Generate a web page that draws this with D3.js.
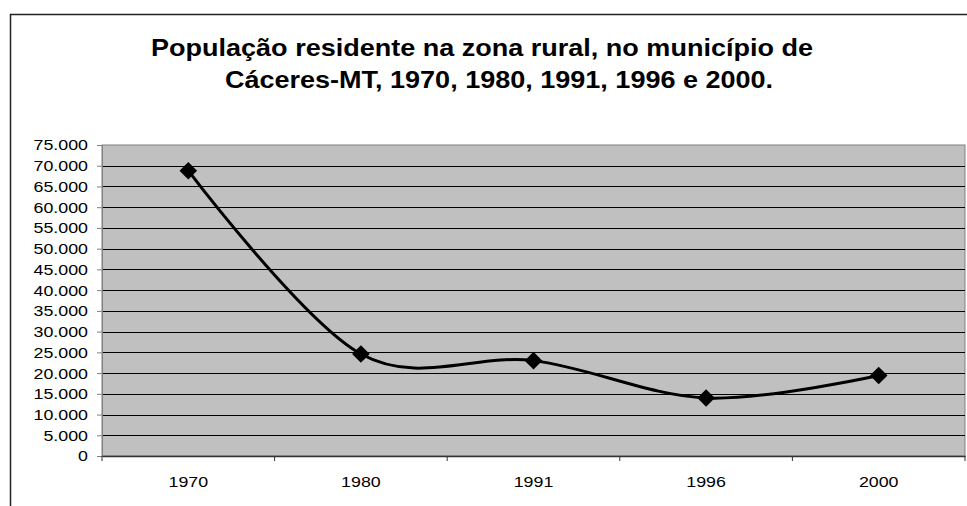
<!DOCTYPE html>
<html lang="pt">
<head>
    <meta charset="UTF-8">
    <title>População residente na zona rural - Cáceres-MT</title>
    <script src="https://cdnjs.cloudflare.com/ajax/libs/d3/7.8.5/d3.min.js"></script>
    <style>
        body, html {
            margin: 0;
            padding: 0;
            width: 967px;
            height: 506px;
            overflow: hidden;
            background: #fff;
            font-family: "Liberation Sans", Arial, sans-serif;
        }
    </style>
</head>
<body>
    <div id="chart"></div>

    <script>
        // dados
        const anos = ["1970", "1980", "1991", "1996", "2000"];
        const populacao = [68800, 24600, 23000, 14000, 19400];
        const yTicks = [0, 5000, 10000, 15000, 20000, 25000, 30000, 35000, 40000,
                        45000, 50000, 55000, 60000, 65000, 70000, 75000];
        const tituloLinhas = [
            "População residente na zona rural, no município de",
            "Cáceres-MT, 1970, 1980, 1991, 1996 e 2000."
        ];

        const width = 967, height = 506;
        const plot = { left: 102, right: 965, top: 145, bottom: 456 };
        const esticar = 1.15; // o original tem o texto um pouco alargado

        const svg = d3.select("#chart").append("svg")
            .attr("width", width)
            .attr("height", height);

        // moldura externa (só topo e esquerda visíveis)
        svg.append("path")
            .attr("d", `M10.5,${height} V14.5 H${width}`)
            .attr("fill", "none")
            .attr("stroke", "#222")
            .attr("stroke-width", 1.5);

        // título
        const tituloX = [482, 499];
        svg.append("g")
            .selectAll("text")
            .data(tituloLinhas)
            .enter().append("text")
            .attr("transform", (d, i) => `translate(${tituloX[i]},${56 + i * 32}) scale(${esticar},1)`)
            .attr("text-anchor", "middle")
            .style("font-weight", "bold")
            .style("font-size", "23.5px")
            .text(d => d);

        const x = d3.scaleBand()
            .domain(anos)
            .range([plot.left, plot.right]);

        const y = d3.scaleLinear()
            .domain([0, 75000])
            .range([plot.bottom, plot.top]);

        // fundo cinza da área de plotagem
        svg.append("rect")
            .attr("x", plot.left)
            .attr("y", plot.top)
            .attr("width", plot.right - plot.left)
            .attr("height", plot.bottom - plot.top)
            .attr("fill", "#C0C0C0")
            .attr("stroke", "#808080")
            .attr("stroke-width", 1);

        // linhas de grade
        svg.append("g")
            .selectAll("line")
            .data(yTicks.filter(d => d > 0 && d < 75000))
            .enter().append("line")
            .attr("x1", plot.left)
            .attr("x2", plot.right)
            .attr("y1", d => Math.round(y(d)) + 0.5)
            .attr("y2", d => Math.round(y(d)) + 0.5)
            .attr("stroke", "#000")
            .attr("stroke-width", 1);

        const fmt = d => d3.format(",")(d).replace(/,/g, ".");

        // eixo Y
        const yAxis = svg.append("g")
            .attr("transform", `translate(${plot.left},0)`)
            .call(d3.axisLeft(y).tickValues(yTicks).tickFormat(fmt).tickSize(5).tickPadding(9));
        yAxis.select(".domain").attr("stroke", "#808080");
        yAxis.selectAll(".tick line").attr("stroke", "#808080");
        yAxis.selectAll("text")
            .attr("x", null)
            .attr("transform", `translate(-14,0) scale(${esticar},1)`)
            .style("font-family", "'Liberation Sans', Arial, sans-serif")
            .style("font-size", "15.5px")
            .attr("fill", "#000");

        // eixo X (marcas nas divisões entre categorias)
        const xAxis = svg.append("g")
            .attr("transform", `translate(0,${plot.bottom})`)
            .call(d3.axisBottom(x).tickSize(0).tickPadding(20));
        xAxis.select(".domain").attr("stroke", "#333").attr("stroke-width", 1.5);
        xAxis.selectAll("text")
            .attr("transform", `scale(${esticar},1)`)
            .style("font-family", "'Liberation Sans', Arial, sans-serif")
            .style("font-size", "15.5px")
            .attr("fill", "#000");
        // compensa o alargamento na posição da categoria
        xAxis.selectAll(".tick").attr("transform", d => `translate(${(x(d) + x.bandwidth() / 2)},0) scale(1)`);
        xAxis.selectAll(".tick text")
            .attr("transform", `scale(${esticar},1)`)
            .attr("x", 0);
        xAxis.append("g")
            .selectAll("line")
            .data(anos.concat([null]))
            .enter().append("line")
            .attr("x1", (d, i) => plot.left + i * x.step())
            .attr("x2", (d, i) => plot.left + i * x.step())
            .attr("y1", 0)
            .attr("y2", 5)
            .attr("stroke", "#333");

        const pontos = anos.map((a, i) => ({ ano: a, valor: populacao[i] }));
        const cx = d => x(d.ano) + x.bandwidth() / 2;

        // linha suavizada
        svg.append("path")
            .datum(pontos)
            .attr("fill", "none")
            .attr("stroke", "#000")
            .attr("stroke-width", 3)
            .attr("d", d3.line()
                .x(cx)
                .y(d => y(d.valor))
                .curve(d3.curveCatmullRom.alpha(0)));

        // marcadores em losango
        svg.append("g")
            .selectAll("path")
            .data(pontos)
            .enter().append("path")
            .attr("d", d3.symbol().type(d3.symbolSquare).size(155))
            .attr("transform", d => `translate(${cx(d)},${y(d.valor)}) rotate(45)`)
            .attr("fill", "#000");
    </script>
</body>
</html>
